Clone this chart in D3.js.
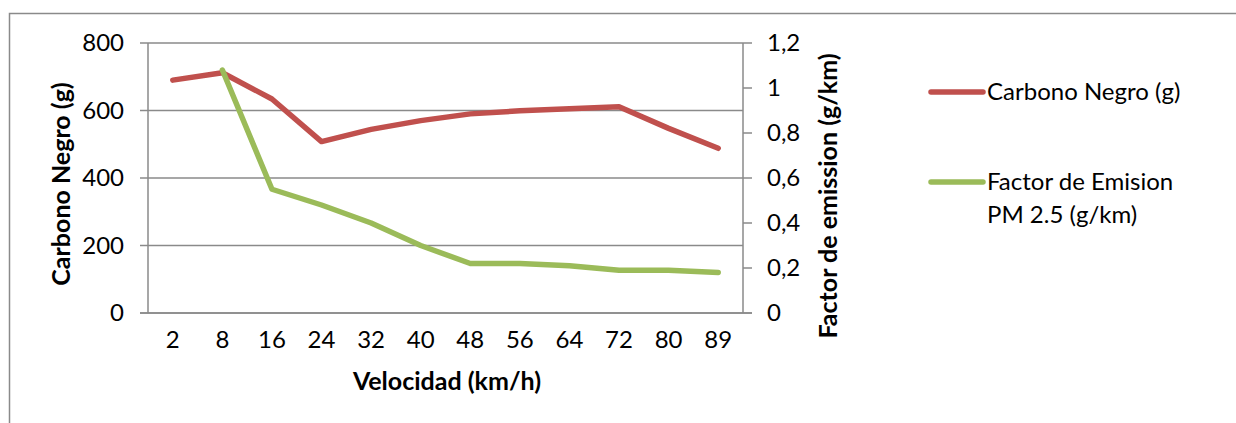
<!DOCTYPE html>
<html>
<head>
<meta charset="utf-8">
<script src="https://cdn.jsdelivr.net/npm/d3@7"></script>
<style>
  body { margin: 0; background: #fff; }
  text { font-family: Lato, "Open Sans", sans-serif; fill: #000; }
</style>
</head>
<body>
<script>
// velocidad categories (km/h)
const speeds = ["2", "8", "16", "24", "32", "40", "48", "56", "64", "72", "80", "89"];
// carbono negro (g), left axis
const carbonoNegro = [690, 712, 634, 508, 544, 570, 590, 599, 605, 611, 547, 488];
// factor de emision PM 2.5 (g/km), right axis -- no value at 2 km/h
const factorEmision = [null, 1.08, 0.55, 0.48, 0.40, 0.30, 0.22, 0.22, 0.21, 0.19, 0.19, 0.18];

const leftTicks = [0, 200, 400, 600, 800];
const rightTicks = [0, 0.2, 0.4, 0.6, 0.8, 1, 1.2];

const W = 1236, H = 423;
const plot = {left: 148, right: 743, top: 43, bottom: 313};
const red = "#C0504D", green = "#9BBB59", gridColor = "#8a8a8a";
const fs = 24, fsBold = 25;

const svg = d3.select("body").append("svg")
  .attr("width", W)
  .attr("height", H);

// outer frame (only top + left visible)
svg.append("path")
  .attr("d", `M9.5,${H} L9.5,13.5 L${W},13.5`)
  .attr("fill", "none")
  .attr("stroke", gridColor)
  .attr("stroke-width", 1.5);

const xScale = d3.scaleBand()
  .domain(speeds)
  .range([plot.left, plot.right]);

const yLeft = d3.scaleLinear()
  .domain([0, 800])
  .range([plot.bottom, plot.top]);

const yRight = d3.scaleLinear()
  .domain([0, 1.2])
  .range([plot.bottom, plot.top]);

// gridlines + left ticks
svg.append("g").selectAll("line")
  .data(leftTicks)
  .enter().append("line")
  .attr("x1", plot.left - 8)
  .attr("x2", plot.right)
  .attr("y1", d => yLeft(d))
  .attr("y2", d => yLeft(d))
  .attr("stroke", gridColor)
  .attr("stroke-width", 1.5);

// left axis line
svg.append("line")
  .attr("x1", plot.left).attr("x2", plot.left)
  .attr("y1", plot.top).attr("y2", plot.bottom)
  .attr("stroke", gridColor).attr("stroke-width", 1.5);

// right axis line + ticks
svg.append("line")
  .attr("x1", plot.right).attr("x2", plot.right)
  .attr("y1", plot.top).attr("y2", plot.bottom)
  .attr("stroke", gridColor).attr("stroke-width", 1.5);

svg.append("g").selectAll("line")
  .data(rightTicks)
  .enter().append("line")
  .attr("x1", plot.right)
  .attr("x2", plot.right + 9)
  .attr("y1", d => yRight(d))
  .attr("y2", d => yRight(d))
  .attr("stroke", gridColor)
  .attr("stroke-width", 1.5);

// bottom axis line
svg.append("line")
  .attr("x1", plot.left - 8).attr("x2", plot.right + 9)
  .attr("y1", plot.bottom).attr("y2", plot.bottom)
  .attr("stroke", gridColor).attr("stroke-width", 1.5);

// tick labels
svg.append("g").selectAll("text")
  .data(leftTicks)
  .enter().append("text")
  .attr("x", 124)
  .attr("y", d => yLeft(d))
  .attr("dy", "0.35em")
  .attr("text-anchor", "end")
  .attr("font-size", fs)
  .text(d => d);

const fmtRight = d => String(d).replace(".", ",");
svg.append("g").selectAll("text")
  .data(rightTicks)
  .enter().append("text")
  .attr("x", 767)
  .attr("y", d => yRight(d))
  .attr("dy", "0.35em")
  .attr("font-size", fs)
  .text(fmtRight);

svg.append("g").selectAll("text")
  .data(speeds)
  .enter().append("text")
  .attr("x", d => xScale(d) + xScale.bandwidth() / 2)
  .attr("y", 340)
  .attr("dy", "0.35em")
  .attr("text-anchor", "middle")
  .attr("font-size", fs)
  .text(d => d);

// axis titles
svg.append("text")
  .attr("transform", "translate(61,184) rotate(-90)")
  .attr("dy", "0.35em")
  .attr("text-anchor", "middle")
  .attr("font-size", fsBold)
  .attr("font-weight", "bold")
  .text("Carbono Negro (g)");

svg.append("text")
  .attr("transform", "translate(828,196) rotate(-90)")
  .attr("dy", "0.35em")
  .attr("text-anchor", "middle")
  .attr("font-size", fsBold)
  .attr("font-weight", "bold")
  .text("Factor de emission (g/km)");

svg.append("text")
  .attr("x", 447)
  .attr("y", 381)
  .attr("dy", "0.35em")
  .attr("text-anchor", "middle")
  .attr("font-size", fsBold)
  .attr("font-weight", "bold")
  .text("Velocidad (km/h)");

// lines
const cx = d => xScale(d) + xScale.bandwidth() / 2;

const lineLeft = d3.line()
  .x((d, i) => cx(speeds[i]))
  .y(d => yLeft(d));

const lineRight = d3.line()
  .defined(d => d != null)
  .x((d, i) => cx(speeds[i]))
  .y(d => yRight(d));

svg.append("path")
  .datum(carbonoNegro)
  .attr("d", lineLeft)
  .attr("fill", "none")
  .attr("stroke", red)
  .attr("stroke-width", 5.5)
  .attr("stroke-linecap", "round")
  .attr("stroke-linejoin", "round");

svg.append("path")
  .datum(factorEmision)
  .attr("d", lineRight)
  .attr("fill", "none")
  .attr("stroke", green)
  .attr("stroke-width", 5.5)
  .attr("stroke-linecap", "round")
  .attr("stroke-linejoin", "round");

// legend
const legendItems = [
  {color: red, lines: ["Carbono Negro (g)"], y: 92},
  {color: green, lines: ["Factor de Emision", "PM 2.5 (g/km)"], y: 182}
];

const legend = svg.append("g").selectAll("g")
  .data(legendItems)
  .enter().append("g")
  .attr("transform", d => `translate(0,${d.y})`);

legend.append("line")
  .attr("x1", 931).attr("x2", 983)
  .attr("y1", 0).attr("y2", 0)
  .attr("stroke", d => d.color)
  .attr("stroke-width", 5.5)
  .attr("stroke-linecap", "round");

legend.each(function(d) {
  d3.select(this).selectAll("text")
    .data(d.lines)
    .enter().append("text")
    .attr("x", 987)
    .attr("y", (t, i) => i * 33)
    .attr("dy", "0.35em")
    .attr("font-size", fs)
    .text(t => t);
});
</script>
</body>
</html>
